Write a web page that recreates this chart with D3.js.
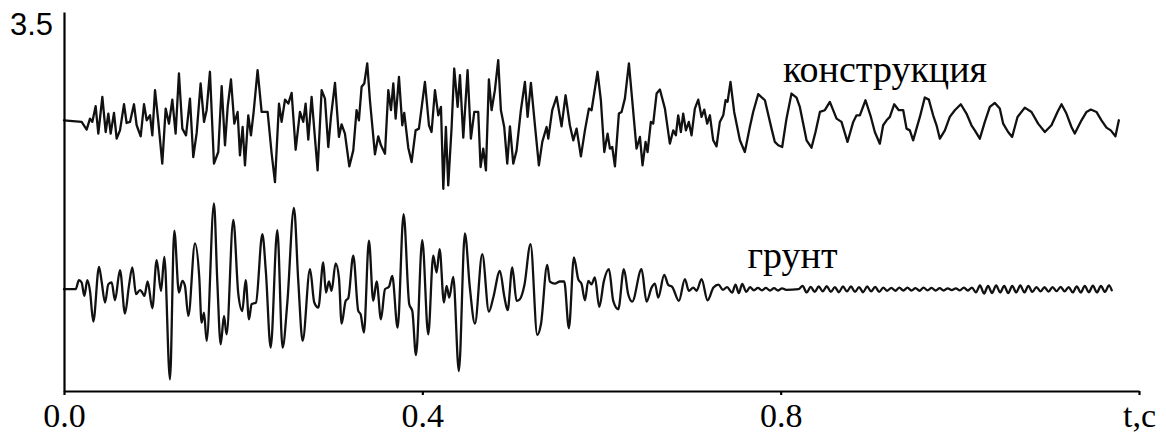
<!DOCTYPE html>
<html>
<head>
<meta charset="utf-8">
<script src="https://cdn.jsdelivr.net/npm/d3@7/dist/d3.min.js"></script>
<style>
  html, body { margin: 0; padding: 0; background: #fff; }
  svg { display: block; }
</style>
</head>
<body>
<svg id="chart" width="1166" height="439"></svg>
<script>
// Time axis ticks (seconds); the last tick carries the axis name
const xTicks = [0, 0.4, 0.8, 1.2];
const xTickLabels = ["0.0", "0.4", "0.8", "t,c"];
const yTicks = [3.5];
const yTickLabels = ["3.5"];

// Trace names and the level each trace oscillates about
const seriesNames = ["конструкция", "грунт"];
const seriesOffsets = [2.5, 0.94];

// Structure response: [time, deviation] at successive turning points
const structureTrace = [
[0,0],[0.0197,-0.015],[0.0253,-0.086],[0.0290,0.015],[0.0316,-0.015],[0.0353,0.13],[0.0383,-0.123],[0.0428,0.216],[0.0465,-0.108],[0.0495,0.062],[0.0521,-0.123],[0.0558,0.068],[0.0588,-0.17],[0.0625,-0.093],[0.0670,0.148],[0.0699,-0.025],[0.0737,-0.015],[0.0781,0.148],[0.0811,-0.046],[0.0856,-0.148],[0.0893,0.148],[0.0923,0],[0.0960,0.046],[0.0986,-0.139],[0.1016,0.278],[0.1053,-0.015],[0.1097,-0.401],[0.1135,0.108],[0.1172,-0.031],[0.1209,0.191],[0.1246,-0.123],[0.1283,0.432],[0.1321,-0.077],[0.1362,-0.139],[0.1406,0.2],[0.1443,-0.34],[0.1481,-0.117],[0.1525,0.34],[0.1563,-0.015],[0.1592,0.093],[0.1629,0.448],[0.1674,-0.401],[0.1722,-0.293],[0.1760,0.315],[0.1797,-0.231],[0.1827,0.123],[0.1864,0.377],[0.1901,-0.031],[0.1938,0.077],[0.1964,-0.324],[0.1994,-0.062],[0.2020,-0.417],[0.2057,0.046],[0.2087,-0.139],[0.2117,0.077],[0.2161,0.463],[0.2206,0.077],[0.2273,0.077],[0.2318,-0.309],[0.2355,-0.571],[0.2400,0.154],[0.2429,-0.015],[0.2467,0.191],[0.2504,0.154],[0.2541,0.253],[0.2586,-0.272],[0.2634,0.077],[0.2671,-0.015],[0.2697,0.154],[0.2727,-0.179],[0.2764,0.216],[0.2831,-0.463],[0.2876,0.278],[0.2913,0.2],[0.2950,-0.247],[0.2980,0.031],[0.3025,0.346],[0.3069,-0.154],[0.3099,-0.037],[0.3136,-0.123],[0.3185,-0.426],[0.3229,-0.278],[0.3266,0.093],[0.3292,0],[0.3322,0.309],[0.3352,0.34],[0.3385,0.525],[0.3415,0.185],[0.3471,-0.315],[0.3508,-0.148],[0.3538,-0.231],[0.3583,-0.309],[0.3620,0.278],[0.3650,0.093],[0.3676,0.34],[0.3702,0.015],[0.3739,0.401],[0.3776,-0.046],[0.3798,0.068],[0.3843,-0.253],[0.3880,-0.386],[0.3925,-0.093],[0.3962,-0.077],[0.4029,0.355],[0.4074,-0.046],[0.4103,-0.108],[0.4141,0.278],[0.4178,0.046],[0.4208,0.123],[0.4234,-0.633],[0.4263,-0.062],[0.4289,-0.602],[0.4327,-0.062],[0.4356,0.478],[0.4394,0.123],[0.4420,0.417],[0.4457,-0.16],[0.4505,0.463],[0.4542,-0.17],[0.4580,0.077],[0.4624,0.077],[0.4650,-0.432],[0.4680,-0.262],[0.4710,-0.463],[0.4743,0.377],[0.4773,0.093],[0.4810,0.278],[0.4847,0.556],[0.4877,0.093],[0.4914,-0.062],[0.4948,-0.401],[0.4978,-0.056],[0.5015,-0.401],[0.5052,-0.278],[0.5100,0.093],[0.5145,0.355],[0.5175,0.031],[0.5212,0.346],[0.5257,-0.046],[0.5301,-0.417],[0.5339,-0.2],[0.5387,-0.062],[0.5406,-0.17],[0.5450,0.093],[0.5499,0.216],[0.5554,-0.056],[0.5599,0.231],[0.5647,-0.046],[0.5685,-0.185],[0.5722,-0.077],[0.5770,-0.333],[0.5815,-0.093],[0.5859,0.108],[0.5889,0.093],[0.5956,0.448],[0.5993,0.185],[0.6031,-0.293],[0.6068,-0.123],[0.6094,-0.262],[0.6120,-0.247],[0.6150,-0.426],[0.6194,0.062],[0.6224,0.077],[0.6261,0.2],[0.6306,0.525],[0.6343,0.185],[0.6391,-0.262],[0.6429,-0.154],[0.6458,-0.417],[0.6492,-0.2],[0.6514,-0.293],[0.6551,-0.015],[0.6577,-0.031],[0.6615,0.247],[0.6652,0.284],[0.6708,0.108],[0.6763,-0.216],[0.6801,-0.093],[0.6830,-0.139],[0.6856,0.046],[0.6886,-0.108],[0.6912,0.062],[0.6942,-0.093],[0.6975,-0.015],[0.7005,-0.139],[0.7042,0.108],[0.7080,0.191],[0.7117,0.031],[0.7147,0.099],[0.7180,-0.031],[0.7210,0.046],[0.7247,-0.185],[0.7284,-0.241],[0.7321,-0.015],[0.7359,0.046],[0.7385,0.185],[0.7407,0.17],[0.7440,0.355],[0.7481,0.077],[0.7545,-0.185],[0.7600,-0.293],[0.7656,-0.062],[0.7693,0.077],[0.7749,0.241],[0.7824,0.185],[0.7898,-0.077],[0.7935,-0.2],[0.7973,-0.231],[0.8017,-0.247],[0.8065,0.015],[0.8121,0.247],[0.8177,0.21],[0.8214,0.123],[0.8289,-0.185],[0.8344,-0.253],[0.8389,-0.108],[0.8438,0.077],[0.8493,0.093],[0.8549,0.17],[0.8624,0.015],[0.8679,-0.015],[0.8746,-0.2],[0.8810,-0.015],[0.8847,0.046],[0.8884,0.046],[0.8947,0.185],[0.9007,0.031],[0.9051,-0.108],[0.9107,-0.216],[0.9144,-0.046],[0.9182,0],[0.9219,0.031],[0.9267,0.148],[0.9319,0.093],[0.9368,0.093],[0.9405,-0.077],[0.9442,-0.093],[0.9479,-0.185],[0.9516,-0.077],[0.9554,0.031],[0.9609,0.21],[0.9654,0.191],[0.9702,0.046],[0.9740,-0.046],[0.9777,-0.17],[0.9833,-0.093],[0.9888,0.031],[0.9944,0.093],[1.0011,0.148],[1.0074,0.062],[1.0130,-0.046],[1.0167,-0.093],[1.0223,-0.17],[1.0279,-0.015],[1.0335,0.123],[1.0391,0.16],[1.0446,0.108],[1.0484,-0.031],[1.0539,-0.108],[1.0584,-0.154],[1.0644,0.031],[1.0725,0.117],[1.0800,0.077],[1.0874,-0.031],[1.0949,-0.108],[1.1023,-0.046],[1.1090,0.077],[1.1135,0.148],[1.1190,0.062],[1.1246,-0.062],[1.1283,-0.123],[1.1358,0],[1.1414,0.077],[1.1462,0.099],[1.1525,0.077],[1.1581,0],[1.1637,-0.068],[1.1685,-0.093],[1.1737,-0.148],[1.1775,0]
];

// Ground motion: [time, deviation] at successive turning points
const groundTrace = [
[0,0],[0.0130,0],[0.0167,0.083],[0.0197,0.062],[0.0227,-0.062],[0.0260,0.083],[0.0290,-0.015],[0.0327,-0.299],[0.0391,0.207],[0.0420,0.071],[0.0458,-0.123],[0.0495,0.046],[0.0532,0.062],[0.0569,-0.102],[0.0625,0.176],[0.0681,-0.225],[0.0725,0.031],[0.0763,0.201],[0.0804,-0.046],[0.0848,-0.009],[0.0874,-0.031],[0.0897,-0.062],[0.0934,0.071],[0.0986,-0.176],[0.1034,0.269],[0.1083,-0.015],[0.1120,0.299],[0.1183,-0.833],[0.1231,0.54],[0.1283,-0.031],[0.1321,0.077],[0.1350,0.031],[0.1388,-0.247],[0.1462,0.423],[0.1510,0.108],[0.1536,-0.309],[0.1563,-0.216],[0.1592,-0.478],[0.1674,0.793],[0.1711,0.077],[0.1749,-0.509],[0.1786,-0.247],[0.1815,-0.417],[0.1890,0.639],[0.1946,-0.046],[0.1990,-0.201],[0.2028,0.083],[0.2065,-0.278],[0.2094,-0.139],[0.2143,-0.123],[0.2214,0.509],[0.2254,0.154],[0.2307,-0.54],[0.2381,0.546],[0.2440,-0.54],[0.2493,-0.123],[0.2567,0.75],[0.2615,0.077],[0.2664,-0.478],[0.2746,0.185],[0.2794,-0.123],[0.2839,-0.17],[0.2894,0.247],[0.2924,-0.031],[0.2958,0.071],[0.2987,-0.015],[0.3032,0.238],[0.3069,0.108],[0.3099,-0.318],[0.3144,-0.108],[0.3173,-0.083],[0.3229,0.309],[0.3285,-0.201],[0.3311,-0.231],[0.3348,-0.401],[0.3404,0.448],[0.3452,-0.108],[0.3490,0.071],[0.3538,-0.278],[0.3583,0],[0.3627,0.022],[0.3664,0.123],[0.3724,-0.355],[0.3791,0.694],[0.3854,-0.139],[0.3888,-0.201],[0.3929,-0.608],[0.3999,0.454],[0.4066,-0.417],[0.4122,0.309],[0.4159,0.154],[0.4193,0.37],[0.4241,-0.123],[0.4271,0.031],[0.4301,-0.077],[0.4345,0.114],[0.4408,-0.756],[0.4475,0.515],[0.4531,0.009],[0.4587,-0.318],[0.4669,0.324],[0.4743,-0.207],[0.4792,-0.077],[0.4866,0.17],[0.4914,-0.062],[0.4952,-0.194],[0.5004,0.201],[0.5052,-0.108],[0.5089,-0.093],[0.5138,0.031],[0.5208,0.417],[0.5283,-0.423],[0.5324,-0.324],[0.5394,0.225],[0.5424,0.071],[0.5480,0.052],[0.5536,0.071],[0.5584,0.071],[0.5636,-0.361],[0.5692,0.293],[0.5740,0.093],[0.5778,0.046],[0.5815,-0.102],[0.5852,0.077],[0.5889,0.046],[0.5926,0.108],[0.5975,-0.164],[0.6027,0.077],[0.6083,0.185],[0.6131,-0.108],[0.6187,-0.185],[0.6250,0.185],[0.6298,-0.046],[0.6343,-0.114],[0.6447,0.185],[0.6503,-0.114],[0.6559,0.015],[0.6596,0.052],[0.6633,-0.077],[0.6700,0.133],[0.6745,0.04],[0.6789,0.022],[0.6864,-0.108],[0.6931,0.093],[0.6975,-0.015],[0.7024,0.015],[0.7061,-0.015],[0.7117,0.093],[0.7184,-0.102],[0.7250,0.015],[0.7306,0.043],[0.7355,-0.006],[0.7401,0.019],[0.7458,-0.031],[0.7496,0.043],[0.7533,-0.037],[0.7571,0.049],[0.7616,-0.025],[0.7658,0.019],
[0.7701,-0.01],[0.7746,0.012],[0.7791,-0.01],[0.7836,0.012],[0.7881,-0.012],[0.7926,0.01],[0.7971,-0.012],[0.8016,0.008],[0.8061,-0.006],[0.8200,0],
[0.8245,0.03],[0.8290,-0.03],[0.8335,0.022],[0.8380,-0.025],[0.8425,0.025],[0.8470,-0.02],[0.8515,0.028],[0.8560,-0.025],[0.8605,0.02],[0.8650,-0.028],[0.8695,0.025],[0.8740,-0.02],[0.8785,0.025],[0.8830,-0.025],[0.8875,0.02],[0.8920,-0.028],[0.8965,0.025],[0.9010,-0.02],[0.9055,0.022],[0.9100,-0.025],[0.9145,0.015],
[0.9190,-0.014],[0.9235,0.012],[0.9280,-0.014],[0.9325,0.014],[0.9370,-0.012],[0.9415,0.014],[0.9460,-0.012],[0.9505,0.01],[0.9550,-0.014],[0.9595,0.014],[0.9640,-0.01],[0.9685,0.012],[0.9730,-0.012],[0.9775,0.01],[0.9820,-0.012],[0.9865,0.008],[0.9910,-0.008],[0.9955,0.008],[1.0000,-0.01],[1.0045,0.014],[1.0090,-0.012],[1.0135,0.015],
[1.0180,-0.03],[1.0225,0.035],[1.0270,-0.04],[1.0315,0.03],[1.0360,-0.035],[1.0405,0.035],[1.0450,-0.03],[1.0495,0.03],[1.0540,-0.035],[1.0585,0.03],[1.0630,-0.03],[1.0675,0.035],[1.0720,-0.03],[1.0765,0.03],[1.0810,-0.025],
[1.0855,0.02],[1.0900,-0.02],[1.0945,0.018],[1.0990,-0.022],[1.1035,0.02],[1.1080,-0.018],[1.1125,0.022],[1.1170,-0.02],[1.1215,0.02],
[1.1260,-0.03],[1.1305,0.025],[1.1350,-0.03],[1.1395,0.03],[1.1440,-0.028],[1.1485,0.032],[1.1530,-0.03],[1.1575,0.03],[1.1620,-0.025],[1.1665,0.035],[1.1696,-0.01]
];

const svg = d3.select("#chart");
svg.append("rect").attr("width", 1166).attr("height", 439).attr("fill", "#fff");

const x = d3.scaleLinear().domain([0, 1.2]).range([64, 1139]);
const y = d3.scaleLinear().domain([0, 3.5]).range([391, 12]);

const serif = "'Liberation Serif', 'Times New Roman', serif";
const sans = "'Liberation Sans', Arial, sans-serif";

// Traces: the structure record is drawn as straight segments, the ground record smoothed
const traces = [structureTrace, groundTrace];
const curves = [d3.curveLinear, d3.curveMonotoneX];
traces.forEach((trace, i) => {
  const off = seriesOffsets[i];
  const line = d3.line().curve(curves[i]);
  svg.append("path")
    .attr("d", line(trace.map(([t, a]) => [x(t), y(off + a)])))
    .attr("fill", "none")
    .attr("stroke", "#111")
    .attr("stroke-width", 2.3)
    .attr("stroke-linejoin", "round")
    .attr("stroke-linecap", "round");
});

// Time axis
const xAxis = svg.append("g")
  .attr("transform", `translate(0,${y(0)})`)
  .call(d3.axisBottom(x)
    .tickValues(xTicks)
    .tickFormat((d, i) => xTickLabels[i])
    .tickSize(4)
    .tickSizeOuter(0)
    .tickPadding(8));
xAxis.select(".domain").attr("stroke", "#000").attr("stroke-width", 2.2);
xAxis.selectAll(".tick line").attr("stroke", "#000").attr("stroke-width", 2.2);
xAxis.selectAll(".tick text")
  .attr("fill", "#000")
  .style("font-family", serif)
  .style("font-size", "34px");

// Amplitude axis
const yAxis = svg.append("g")
  .attr("transform", `translate(${x(0)},0)`)
  .call(d3.axisLeft(y)
    .tickValues(yTicks)
    .tickFormat((d, i) => yTickLabels[i])
    .tickSize(0)
    .tickSizeOuter(0)
    .tickPadding(11));
yAxis.select(".domain").attr("stroke", "#000").attr("stroke-width", 2.2);
yAxis.selectAll(".tick text")
  .attr("fill", "#000")
  .attr("dy", "0.74em")
  .style("font-family", sans)
  .style("font-size", "31px");

// Trace names
const nameAnchors = [[0.8027, 2.85], [0.7630, 1.14]];
seriesNames.forEach((name, i) => {
  svg.append("text")
    .attr("x", x(nameAnchors[i][0]))
    .attr("y", y(nameAnchors[i][1]))
    .attr("fill", "#000")
    .style("font-family", serif)
    .style("font-size", "38px")
    .text(name);
});
</script>
</body>
</html>
